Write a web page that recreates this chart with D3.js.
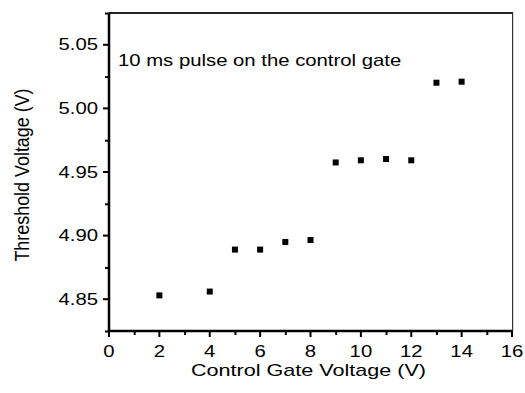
<!DOCTYPE html>
<html>
<head>
<meta charset="utf-8">
<script src="https://cdn.jsdelivr.net/npm/d3@7"></script>
<style>
  html, body { margin: 0; padding: 0; background: #fff; }
  svg { display: block; }
  text { font-family: "Liberation Sans", Arial, sans-serif; fill: #000; }
</style>
</head>
<body>
<svg id="chart" width="525" height="393"></svg>
<script>
// Data
const gateVoltage = [2, 4, 5, 6, 7, 8, 9, 10, 11, 12, 13, 14];
const thresholdVoltage = [4.853, 4.856, 4.889, 4.889, 4.895, 4.8965, 4.9575, 4.9592, 4.9602, 4.9592, 5.0202, 5.021];
const xTicks = [0, 2, 4, 6, 8, 10, 12, 14, 16];
const yTicks = [4.85, 4.90, 4.95, 5.00, 5.05];
const xMinorTicks = [1, 3, 5, 7, 9, 11, 13, 15];
const yMinorTicks = [4.825, 4.875, 4.925, 4.975, 5.025, 5.075];
const annotation = "10 ms pulse on the control gate";
const xTitle = "Control Gate Voltage (V)";
const yTitle = "Threshold Voltage (V)";

const SX = 1.27; // horizontal stretch of the original lettering

const svg = d3.select("#chart");
const mLeft = 109, mRight = 512, mTop = 13, mBottom = 331;

const x = d3.scaleLinear().domain([0, 16]).range([mLeft, mRight]);
const y = d3.scaleLinear().domain([4.825, 5.075]).range([mBottom, mTop]);

// frame top and right (filled rects for crisp rendering)
svg.append("rect").attr("x", mLeft).attr("y", mTop - 1).attr("width", mRight - mLeft + 1).attr("height", 2).attr("fill", "#222");
svg.append("rect").attr("x", mRight).attr("y", mTop).attr("width", 1.2).attr("height", mBottom - mTop).attr("fill", "#333");

// minor ticks
svg.append("g").attr("transform", `translate(0,${mBottom})`)
  .call(d3.axisBottom(x).tickValues(xMinorTicks).tickSize(4).tickFormat(""))
  .call(g => g.select(".domain").remove())
  .selectAll("line").style("stroke", "#000").style("stroke-width", "2px");
svg.append("g").attr("transform", `translate(${mLeft},0)`)
  .call(d3.axisLeft(y).tickValues(yMinorTicks).tickSize(4).tickFormat(""))
  .call(g => g.select(".domain").remove())
  .selectAll("line").style("stroke", "#000").style("stroke-width", "2px");

// x axis
const gx = svg.append("g").attr("transform", `translate(0,${mBottom})`)
  .call(d3.axisBottom(x).tickValues(xTicks).tickSize(6).tickSizeOuter(0).offset(0).tickFormat(d3.format("d")));
gx.select(".domain").style("stroke", "#000").style("stroke-width", "2.5px");
gx.selectAll(".tick line").style("stroke", "#000").style("stroke-width", "2px");
gx.selectAll(".tick text")
  .attr("y", 0).attr("dy", 0)
  .attr("transform", `translate(0,26) scale(${SX},1)`)
  .style("font-size", "16px").attr("fill", "#000");

// y axis
const gy = svg.append("g").attr("transform", `translate(${mLeft},0)`)
  .call(d3.axisLeft(y).tickValues(yTicks).tickSize(6).tickSizeOuter(0).offset(0).tickFormat(d3.format(".2f")));
gy.select(".domain").style("stroke", "#000").style("stroke-width", "2.5px");
gy.selectAll(".tick line").style("stroke", "#000").style("stroke-width", "2px");
gy.selectAll(".tick text")
  .attr("x", 0).attr("dy", "0.35em")
  .attr("transform", `translate(-11,0) scale(${SX},1)`)
  .style("font-size", "16px").attr("fill", "#000");

// points
svg.append("g").selectAll("rect")
  .data(gateVoltage.map((g, i) => ({ g, v: thresholdVoltage[i] })))
  .join("rect")
  .attr("x", d => x(d.g) - 3)
  .attr("y", d => y(d.v) - 3)
  .attr("width", 6).attr("height", 6)
  .attr("fill", "#000");

// annotation
svg.append("text")
  .attr("transform", `translate(118,66) scale(${SX},1)`)
  .style("font-size", "16px")
  .text(annotation);

// axis titles
svg.append("text")
  .attr("transform", `translate(${(mLeft + mRight) / 2 - 2},376) scale(${SX},1)`)
  .attr("text-anchor", "middle")
  .style("font-size", "17px")
  .text(xTitle);

svg.append("text")
  .attr("transform", `translate(29,175) rotate(-90) scale(1.12,1.27)`)
  .attr("text-anchor", "middle")
  .style("font-size", "16px")
  .text(yTitle);
</script>
</body>
</html>
